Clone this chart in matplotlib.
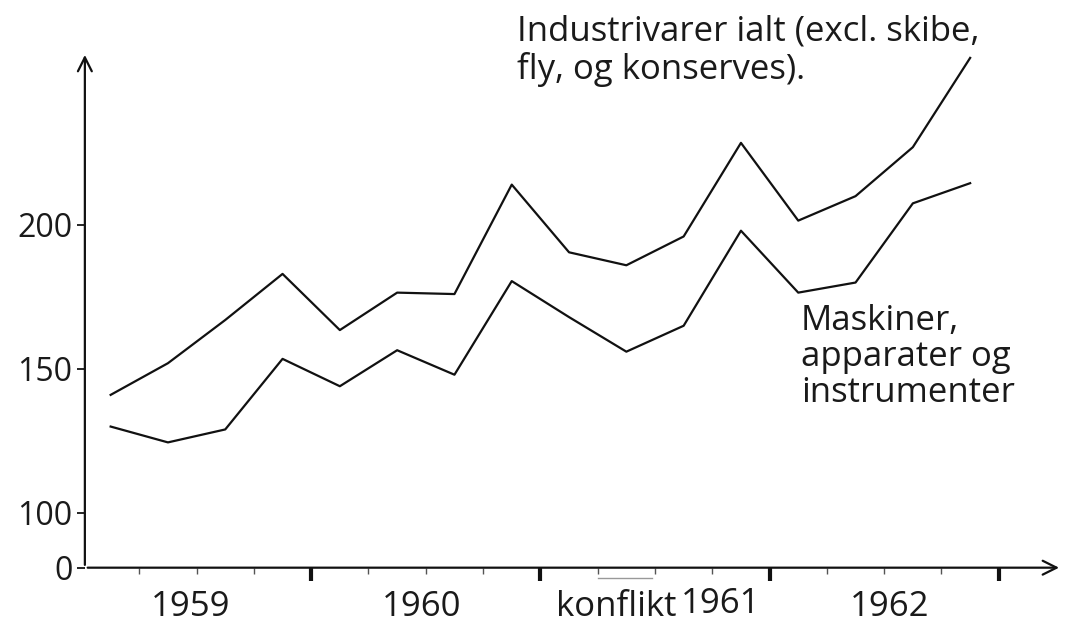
import numpy as np
import matplotlib.pyplot as plt

# quarterly index values, 1959-1962
industri = [141, 152, 167, 183, 163.5, 176.5, 176, 214, 190.5, 186, 196, 228.5, 201.5, 210, 227, 258]
maskiner = [130, 124.5, 129, 153.5, 144, 156.5, 148, 180.5, 168, 156, 165, 198, 176.5, 180, 207.5, 214.5]
years = ['1959', '1960', '1961', '1962']
ytick_vals = [81, 100, 150, 200]
ytick_labels = ['0', '100', '150', '200']

plt.rcParams['font.family'] = ['Open Sans', 'DejaVu Sans']
FS = 25
TXT = '#1a1a1a'

fig = plt.figure(figsize=(10.65, 6.25), dpi=100)
ax = fig.add_axes([0, 0, 1, 1])
ax.set_xlim(-82 / 57.3, (1065 - 82) / 57.3)
ax.set_ylim(61.1, 278.1)

q = np.arange(len(industri)) + 0.5
ax.plot(q, industri, color='#111111', lw=1.6)
ax.plot(q, maskiner, color='#111111', lw=1.6)

# axes drawn as arrows
x0 = 0.05
y0 = ytick_vals[0]
ax.annotate('', xy=(17.1, y0), xytext=(x0, y0),
            arrowprops=dict(arrowstyle='->', color='#111111', lw=1.6,
                            mutation_scale=25))
ax.annotate('', xy=(x0, 260), xytext=(x0, y0),
            arrowprops=dict(arrowstyle='->', color='#111111', lw=1.6,
                            mutation_scale=25))

for s in ax.spines.values():
    s.set_visible(False)
ax.spines['left'].set_position(('data', x0))
ax.spines['bottom'].set_position(('data', y0))

ax.set_yticks(ytick_vals)
ax.set_yticklabels(ytick_labels, fontsize=23, color=TXT)
ax.tick_params(axis='y', direction='out', length=6, width=1.2, pad=3)

ax.set_xticks([4, 8, 12, 16])
ax.set_xticklabels([])
ax.tick_params(axis='x', direction='out', length=9, width=3, color='#111111')
ax.set_xticks(np.arange(1, 17), minor=True)
ax.tick_params(axis='x', which='minor', direction='out', length=4, width=1, color='#555555')

year_pos = [1.9, 5.92, 11.15, 14.1]
for xp, yr in zip(year_pos, years):
    ax.text(xp, 67.5 if yr != '1961' else 68.5, yr, ha='center', va='center',
            fontsize=FS, color=TXT)
ax.text(9.32, 67.3, 'konflikt', ha='center', va='center', fontsize=FS, color=TXT)
ax.plot([9.0, 9.95], [77.5, 77.5], color='#999999', lw=1)

ax.text(7.6, 260.5, 'Industrivarer ialt (excl. skibe,\nfly, og konserves).',
        ha='left', va='center', fontsize=FS, color=TXT, linespacing=1.12)
ax.text(12.55, 154.2, 'Maskiner,\napparater og\ninstrumenter',
        ha='left', va='center', fontsize=FS, color=TXT, linespacing=1.08)

fig.savefig('out.png', dpi=100)
